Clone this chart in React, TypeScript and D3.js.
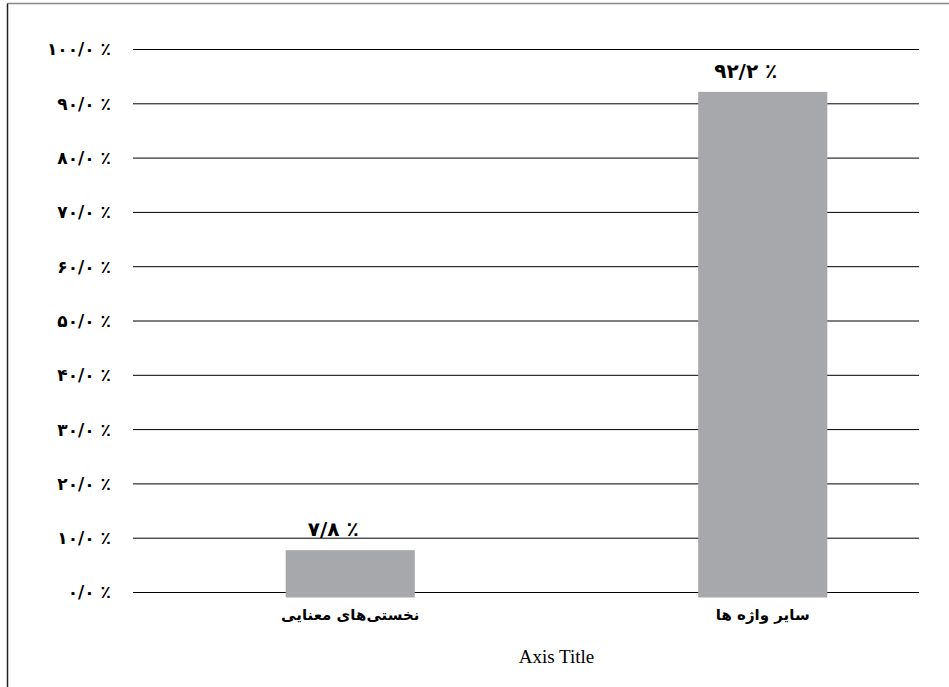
import React from "react";
import * as d3 from "d3";

const categories = ["نخستی‌های معنایی", "سایر واژه ها"];
const values = [7.8, 92.2];
const valueLabels = ["۷/۸ ٪", "۹۲/۲ ٪"];
const tickValues = [0, 10, 20, 30, 40, 50, 60, 70, 80, 90, 100];
const tickLabels = ["۰/۰ ٪", "۱۰/۰ ٪", "۲۰/۰ ٪", "۳۰/۰ ٪", "۴۰/۰ ٪", "۵۰/۰ ٪", "۶۰/۰ ٪", "۷۰/۰ ٪", "۸۰/۰ ٪", "۹۰/۰ ٪", "۱۰۰/۰ ٪"];
const axisTitle = "Axis Title";

const W = 949;
const H = 687;
const gridX0 = 133;
const gridX1 = 919;
const persianFont = "'DejaVu Sans', sans-serif";

export default function App() {
  const y = d3.scaleLinear().domain([0, 100]).range([592.5, 49.5]);
  const x = d3.scaleBand<string>().domain(categories).range([144, 969]).paddingInner(0.687).paddingOuter(0.3435);
  const bw = x.bandwidth();
  return (
    <svg width={W} height={H} style={{ position: "absolute", left: 0, top: 0, background: "#fff" }}>
      <line x1={7.5} y1={3.5} x2={W} y2={3.5} stroke="#888" strokeWidth={1.5} />
      <line x1={7.5} y1={3.5} x2={7.5} y2={H} stroke="#222" strokeWidth={1.5} />
      {tickValues.map((t, i) => (
        <g key={t}>
          <line x1={gridX0} x2={gridX1} y1={y(t)} y2={y(t)} stroke="#000" strokeWidth={1} />
          <text x={111} y={y(t)} dy="0.35em" textAnchor="end" direction="ltr" fontFamily={persianFont} fontWeight="bold" fontSize={17} fill="#000">
            {tickLabels[i]}
          </text>
        </g>
      ))}
      {categories.map((c, i) => {
        const x0 = x(c)!;
        const cx = x0 + bw / 2;
        return (
          <g key={c}>
            <rect x={x0} y={y(values[i])} width={bw} height={y(0) - y(values[i]) + 5} fill="#a7a8ab" />
            <text x={cx - 17} y={y(values[i]) - 14} textAnchor="middle" direction="ltr" fontFamily={persianFont} fontWeight="bold" fontSize={20} fill="#000">
              {valueLabels[i]}
            </text>
            <text x={cx} y={y(0) + 27} textAnchor="middle" direction="rtl" fontFamily={persianFont} fontWeight="bold" fontSize={15} fill="#000">
              {c}
            </text>
          </g>
        );
      })}
      <text x={(x.range()[0] + x.range()[1]) / 2} y={663} textAnchor="middle" fontFamily="'Liberation Serif', serif" fontSize={19} fill="#000">
        {axisTitle}
      </text>
    </svg>
  );
}
